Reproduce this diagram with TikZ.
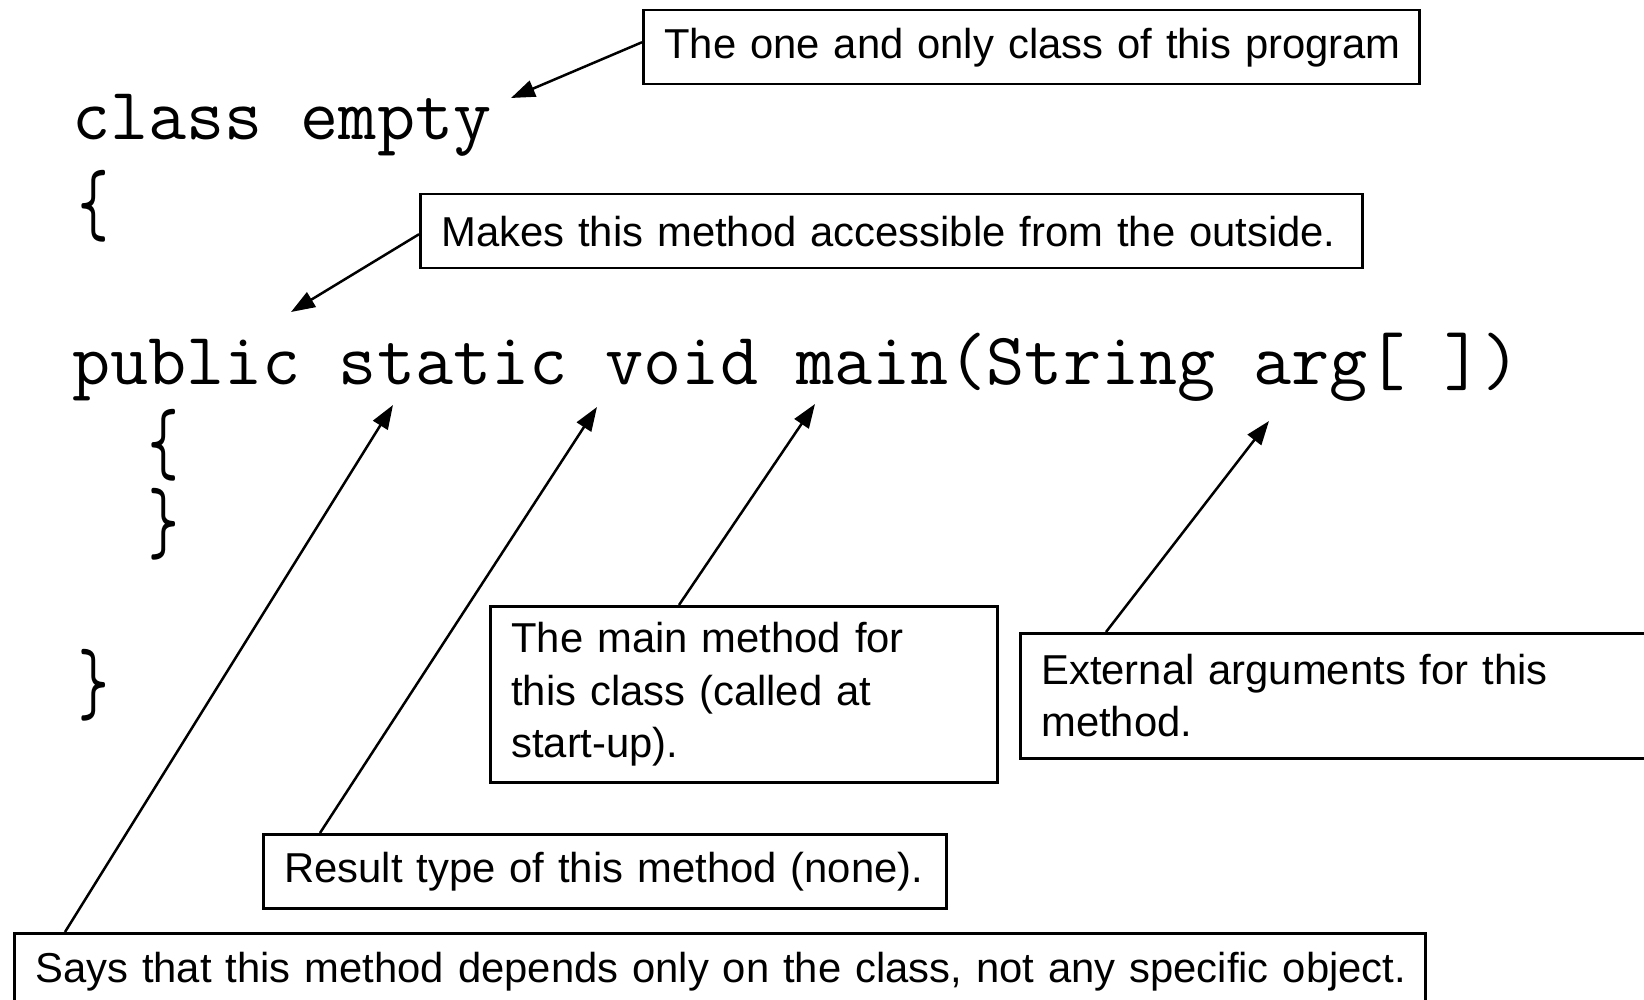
\documentclass[tikz,border=0pt]{standalone}
\usepackage{fontspec}
\usetikzlibrary{arrows.meta}
\newfontfamily\labelfont{Liberation Sans}
\newfontfamily\codefont{Latin Modern Mono}
\begin{document}
\begin{tikzpicture}[x=1pt,y=-1pt,
  box/.style={draw, line width=2.5pt, inner xsep=21pt, inner ysep=0pt, anchor=north west,
    align=left, font=\labelfont\fontsize{41.8}{52.4}\selectfont},
  code/.style={inner sep=0pt, anchor=base west, font=\codefont\fontsize{74}{80}\selectfont},
  brace/.style={inner sep=0pt, anchor=center, font=\codefont\fontsize{74}{80}\selectfont},
  arr/.style={line width=2.5pt, -{Triangle[length=24pt,width=17pt]}}]
\useasboundingbox (0,0) rectangle (1644,1000);
% code
\node[code] (cls) at (72,140) {class empty};
\node[brace] (ob) at (94,206) {\scalebox{0.8}[1.25]{\{}};
\node[code] (sig) at (72,384) {public static void main(String arg[ ])};
\node[brace] (ib) at (164,445) {\scalebox{0.8}[1.25]{\{}};
\node[brace] (ie) at (164,524) {\scalebox{0.8}[1.25]{\}}};
\node[brace] (oe) at (94,685) {\scalebox{0.8}[1.25]{\}}};
% targets
\coordinate (tClass) at (511,98);
\coordinate (tPublic) at (291,312);
\coordinate (tStatic) at (393,405);
\coordinate (tVoid) at (597,407);
\coordinate (tMain) at (815,404);
\coordinate (tArg) at (1269,421);
% boxes
\node[box, minimum width=776, minimum height=74, text width=734] (one) at (642,9)
  {\mbox{The one and only class of this program}};
\node[box, minimum width=942, minimum height=74, text width=900] (acc) at (419,193)
  {\mbox{Makes this method accessible from the outside.}};
\node[box, minimum width=507, minimum height=176, text width=465] (mainb) at (489,605)
  {\mbox{The main method for}\\\mbox{this class (called at}\\\mbox{start-up).}};
\node[box, minimum width=660, minimum height=125, text width=618] (ext) at (1019,632)
  {\mbox{External arguments for this}\\\mbox{method.}};
\node[box, minimum width=683, minimum height=74, text width=641] (res) at (262,833)
  {\mbox{Result type of this method (none).}};
\node[box, minimum width=1411, minimum height=76, text width=1369] (says) at (13,932)
  {\mbox{Says that this method depends only on the class, not any specific object.}};
% connectors
\draw[arr] ([yshift=5pt]one.west) -- (tClass);
\draw[arr] ([yshift=-3pt]acc.west) -- (tPublic);
\draw[arr] ([xshift=52pt]says.north west) -- (tStatic);
\draw[arr] ([xshift=58pt]res.north west) -- (tVoid);
\draw[arr] ([xshift=190pt]mainb.north west) -- (tMain);
\draw[arr] ([xshift=87pt]ext.north west) -- (tArg);
\end{tikzpicture}
\end{document}
